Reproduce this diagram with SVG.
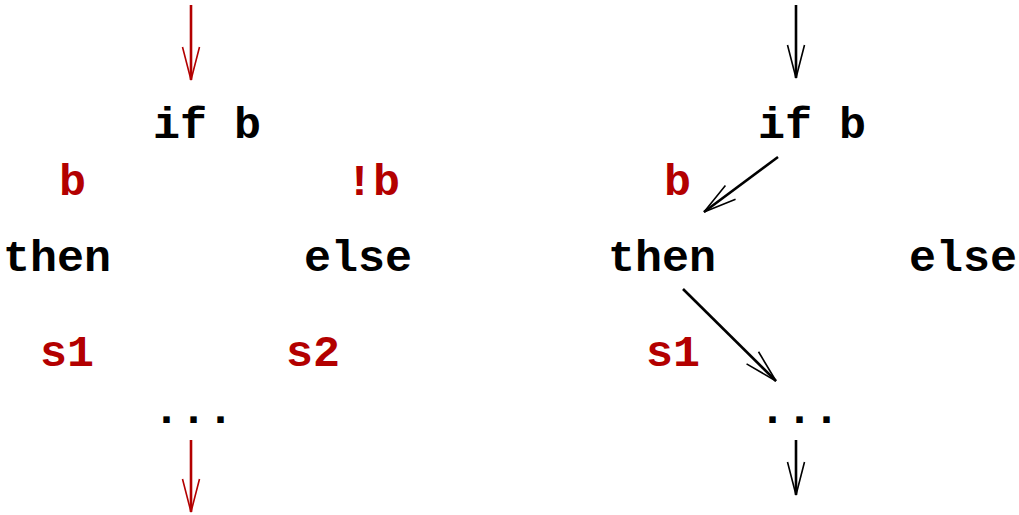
<svg xmlns="http://www.w3.org/2000/svg" width="1019" height="515" viewBox="0 0 1019 515">
  <style>
    text { font-family: "Liberation Mono", "Courier New", monospace; font-weight: bold; font-size: 45px; }
    .code { fill: #000000; }
    .cond { fill: #b30000; }
    .flow-red { stroke: #b30000; stroke-width: 2.6; fill: none; }
    .flow-black { stroke: #000000; stroke-width: 2.6; fill: none; }
  </style>
  <defs>
    <marker id="head-red" markerUnits="userSpaceOnUse" viewBox="-36 -10 40 20" refX="0" refY="0" markerWidth="40" markerHeight="20" orient="auto" overflow="visible">
      <path d="M -33 -8.5 L 0 0 L -33 8.5" fill="none" stroke="#b30000" stroke-width="1.6"/>
    </marker>
    <marker id="head-black" markerUnits="userSpaceOnUse" viewBox="-36 -10 40 20" refX="0" refY="0" markerWidth="40" markerHeight="20" orient="auto" overflow="visible">
      <path d="M -33 -8.5 L 0 0 L -33 8.5" fill="none" stroke="#000000" stroke-width="1.6"/>
    </marker>
  </defs>

  <!-- left: both branches -->
  <g id="left-if"><text class="code" x="153" y="138">if b</text></g>
  <g id="left-cond-b"><text class="cond" x="59" y="195">b</text></g>
  <g id="left-cond-notb"><text class="cond" x="346" y="195">!b</text></g>
  <g id="left-then"><text class="code" x="3" y="271">then</text></g>
  <g id="left-else"><text class="code" x="304" y="271">else</text></g>
  <g id="left-s1"><text class="cond" x="40" y="366">s1</text></g>
  <g id="left-s2"><text class="cond" x="286" y="366">s2</text></g>
  <g id="left-join"><text class="code" x="153" y="423">...</text></g>

  <!-- right: the taken branch -->
  <g id="right-if"><text class="code" x="758" y="138">if b</text></g>
  <g id="right-cond-b"><text class="cond" x="664" y="195">b</text></g>
  <g id="right-then"><text class="code" x="608" y="271">then</text></g>
  <g id="right-else"><text class="code" x="909" y="271">else</text></g>
  <g id="right-s1"><text class="cond" x="646" y="366">s1</text></g>
  <g id="right-join"><text class="code" x="759" y="423">...</text></g>

  <g id="connectors">
    <path class="flow-red" d="M 191 5 L 191 80" marker-end="url(#head-red)"/>
    <path class="flow-red" d="M 191 440 L 191 512" marker-end="url(#head-red)"/>
    <path class="flow-black" d="M 796 5 L 796 78" marker-end="url(#head-black)"/>
    <path class="flow-black" d="M 778 157 L 704 212" marker-end="url(#head-black)"/>
    <path class="flow-black" d="M 683 289 L 776 381" marker-end="url(#head-black)"/>
    <path class="flow-black" d="M 796 440 L 796 495" marker-end="url(#head-black)"/>
  </g>
</svg>
